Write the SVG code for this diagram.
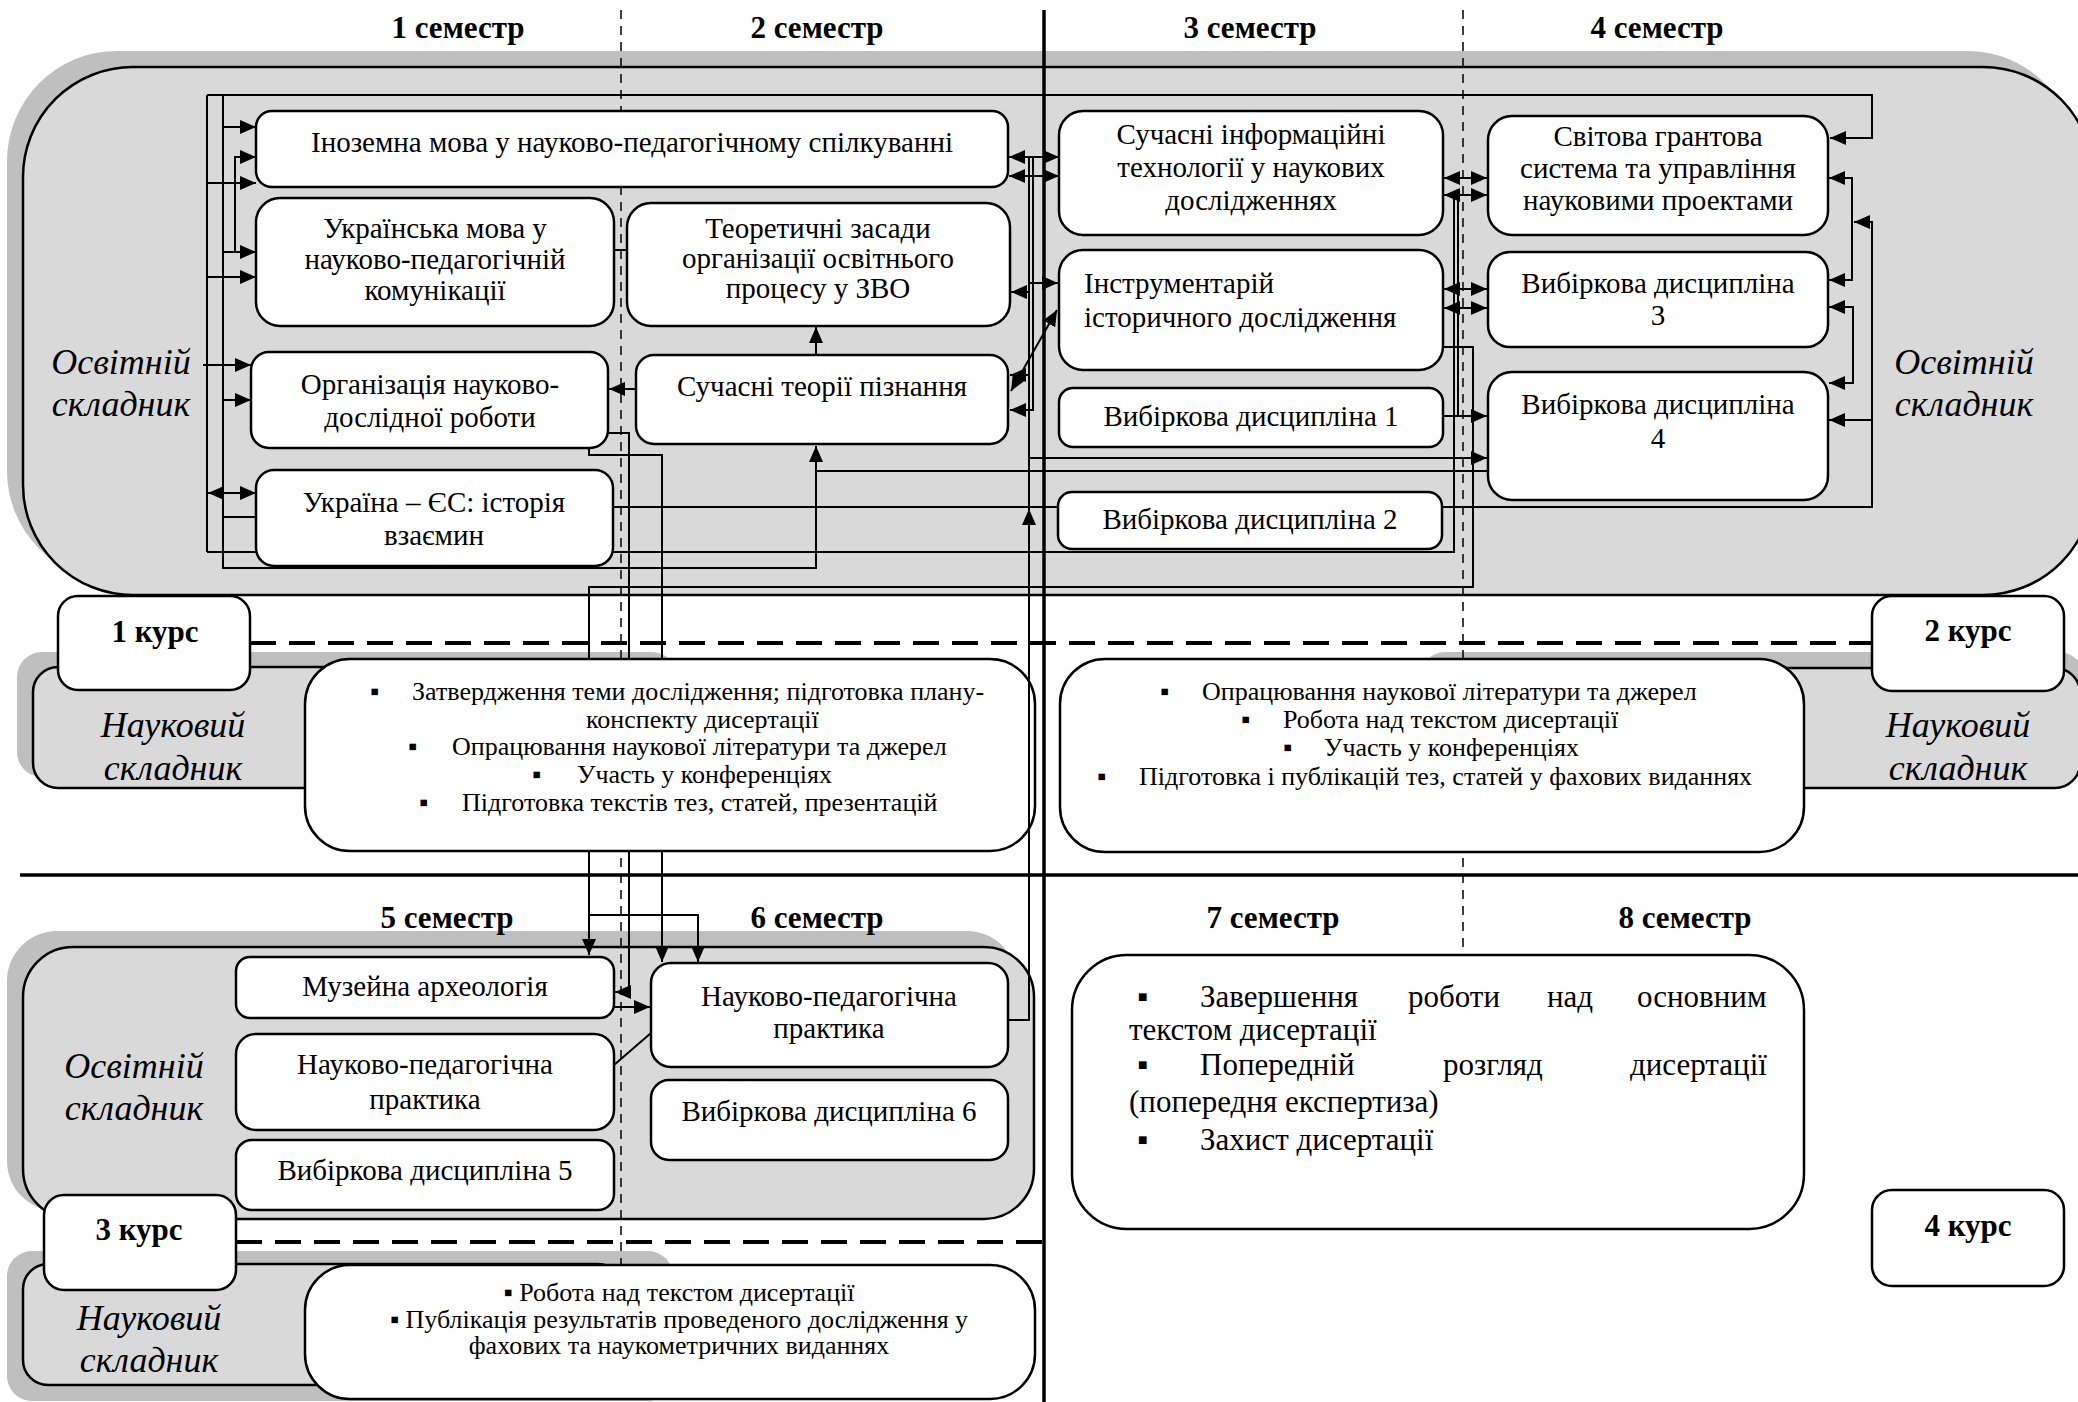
<svg xmlns="http://www.w3.org/2000/svg" width="2078" height="1402" viewBox="0 0 2078 1402">
<defs>
<style>
.bg{fill:#fff}
.sh{fill:#bfbfbf}
.zn{fill:#d9d9d9;stroke:#000;stroke-width:2.5}
.nd{fill:#fff;stroke:#000;stroke-width:2.5}
.t{font-family:"Liberation Serif","Times New Roman",serif;font-size:29px;fill:#000;text-anchor:middle}
.ts{font-family:"Liberation Serif","Times New Roman",serif;font-size:29px;fill:#000}
.b{font-family:"Liberation Serif","Times New Roman",serif;font-size:26px;fill:#000}
.bc{font-family:"Liberation Serif","Times New Roman",serif;font-size:26px;fill:#000;text-anchor:middle}
.y4{font-family:"Liberation Serif","Times New Roman",serif;font-size:31px;fill:#000}
.hd{font-family:"Liberation Serif","Times New Roman",serif;font-size:31px;font-weight:bold;fill:#000;text-anchor:middle}
.lb{font-family:"Liberation Serif","Times New Roman",serif;font-size:36px;font-style:italic;fill:#000;text-anchor:middle}
.c{fill:none;stroke:#000;stroke-width:2}
.dv{fill:none;stroke:#000;stroke-width:1.5;stroke-dasharray:9,7}
.dh{fill:none;stroke:#000;stroke-width:4;stroke-dasharray:26,13}
.sl{fill:none;stroke:#000;stroke-width:3.5}
</style>
<marker id="ah" viewBox="0 0 16 14" refX="16" refY="7" markerWidth="16" markerHeight="14" markerUnits="userSpaceOnUse" orient="auto-start-reverse"><path d="M0,0 L16,7 L0,14 z" fill="#000"/></marker>
</defs>
<rect class="bg" x="0" y="0" width="2078" height="1402"/>

<g id="zones">
<rect class="sh" x="7" y="51" width="2070" height="530" rx="110"/>
<rect class="zn" x="23" y="67" width="2070" height="528" rx="110"/>
<rect class="sh" x="17" y="652" width="660" height="125" rx="25"/>
<rect class="zn" x="33" y="667" width="600" height="121" rx="25"/>
<rect class="sh" x="1420" y="652" width="664" height="120" rx="25"/>
<rect class="zn" x="1440" y="668" width="640" height="120" rx="25"/>
<rect class="sh" x="7" y="931" width="1010" height="280" rx="50"/>
<rect class="zn" x="23" y="947" width="1011" height="272" rx="50"/>
<rect class="sh" x="7" y="1251" width="666" height="150" rx="25"/>
<rect class="zn" x="23" y="1264" width="600" height="121" rx="25"/>
</g>

<g id="grid-dashed">
<path class="dv" d="M621,10 V1265"/>
<path class="dv" d="M1463,10 V955"/>
</g>

<g id="connectors">
<path class="c" d="M207,95 V552"/>
<path class="c" d="M223,95 V568 H816 V446" marker-end="url(#ah)"/>
<path class="c" d="M207,95 H1872 V138 H1830" marker-end="url(#ah)"/>
<path class="c" d="M223,127 H256" marker-end="url(#ah)"/>
<path class="c" d="M235,252 V157 H256" marker-end="url(#ah)"/>
<path class="c" d="M207,183 H256" marker-end="url(#ah)"/>
<path class="c" d="M223,252 H256" marker-end="url(#ah)"/>
<path class="c" d="M207,277 H256" marker-end="url(#ah)"/>
<path class="c" d="M203,365 H251" marker-end="url(#ah)"/>
<path class="c" d="M223,400 H251" marker-end="url(#ah)"/>
<path class="c" d="M208,493 H256" marker-start="url(#ah)" marker-end="url(#ah)"/>
<path class="c" d="M223,517 H256"/>
<path class="c" d="M207,552 H256"/>
<path class="c" d="M636,389 H609" marker-end="url(#ah)"/>
<path class="c" d="M816,355 V327" marker-end="url(#ah)"/>
<path class="c" d="M613,250 H627"/>
<path class="c" d="M613,507 H1058"/>
<path class="c" d="M613,552 H1454 V195"/>
<path class="c" d="M1442,507 H1872 V222 H1854" marker-end="url(#ah)"/>
<path class="c" d="M1872,420 H1829" marker-end="url(#ah)"/>
<path class="c" d="M1829,178 H1852 V280 H1829" marker-start="url(#ah)" marker-end="url(#ah)"/>
<path class="c" d="M1829,307 H1853 V383 H1829" marker-start="url(#ah)" marker-end="url(#ah)"/>
<path class="c" d="M816,471 H1488"/>
<path class="c" d="M1009,157 H1059" marker-start="url(#ah)" marker-end="url(#ah)"/>
<path class="c" d="M1009,176 H1059" marker-start="url(#ah)" marker-end="url(#ah)"/>
<path class="c" d="M1033,157 V410 H1010" marker-end="url(#ah)"/>
<path class="c" d="M1029,375 H1010" marker-end="url(#ah)"/>
<path class="c" d="M1029,283 H1058" marker-end="url(#ah)"/>
<path class="c" d="M1029,292 H1011" marker-end="url(#ah)"/>
<path class="c" d="M1011,391 L1057,310" marker-start="url(#ah)" marker-end="url(#ah)"/>
<path class="c" d="M1029,458 H1487" marker-end="url(#ah)"/>
<path class="c" d="M1444,178 H1487" marker-start="url(#ah)" marker-end="url(#ah)"/>
<path class="c" d="M1444,195 H1487" marker-start="url(#ah)" marker-end="url(#ah)"/>
<path class="c" d="M1444,289 H1487" marker-start="url(#ah)" marker-end="url(#ah)"/>
<path class="c" d="M1444,308 H1487" marker-start="url(#ah)" marker-end="url(#ah)"/>
<path class="c" d="M1458,195 V416"/>
<path class="c" d="M1443,416 H1487" marker-end="url(#ah)"/>
<path class="c" d="M1443,347 H1473 V587 H589 V955" marker-end="url(#ah)"/>
<path class="c" d="M589,915 H698 V962" marker-end="url(#ah)"/>
<path class="c" d="M608,433 H629 V992 H615" marker-end="url(#ah)"/>
<path class="c" d="M589,447 V455 H662 V962" marker-end="url(#ah)"/>
<path class="c" d="M614,1007 H650" marker-end="url(#ah)"/>
<path class="c" d="M614,1065 L651,1033"/>
</g>

<g id="n-inozemna"><rect class="nd" x="256" y="111" width="752" height="76" rx="16"/><text class="t" x="632" y="152">Іноземна мова у науково-педагогічному спілкуванні</text></g>
<g id="n-ukrmova"><rect class="nd" x="256" y="198" width="358" height="128" rx="24"/><text class="t" y="238"><tspan x="435">Українська мова у</tspan><tspan x="435" dy="31">науково-педагогічній</tspan><tspan x="435" dy="31">комунікації</tspan></text></g>
<g id="n-teoretychni"><rect class="nd" x="627" y="203" width="383" height="123" rx="24"/><text class="t" y="238"><tspan x="818">Теоретичні засади</tspan><tspan x="818" dy="30">організації освітнього</tspan><tspan x="818" dy="30">процесу у ЗВО</tspan></text></g>
<g id="n-orhanizatsiia"><rect class="nd" x="251" y="352" width="357" height="96" rx="18"/><text class="t" y="394"><tspan x="430">Організація науково-</tspan><tspan x="430" dy="33">дослідної роботи</tspan></text></g>
<g id="n-teorii"><rect class="nd" x="636" y="355" width="372" height="89" rx="18"/><text class="t" x="822" y="396">Сучасні теорії пізнання</text></g>
<g id="n-ukraina-es"><rect class="nd" x="256" y="470" width="357" height="96" rx="18"/><text class="t" y="512"><tspan x="434">Україна – ЄС: історія</tspan><tspan x="434" dy="33">взаємин</tspan></text></g>
<g id="n-it"><rect class="nd" x="1059" y="111" width="384" height="124" rx="24"/><text class="t" y="144"><tspan x="1251">Сучасні інформаційні</tspan><tspan x="1251" dy="33">технології у наукових</tspan><tspan x="1251" dy="33">дослідженнях</tspan></text></g>
<g id="n-instrumentarii"><rect class="nd" x="1059" y="250" width="384" height="120" rx="24"/><text class="ts" y="293"><tspan x="1084">Інструментарій</tspan><tspan x="1084" dy="34">історичного дослідження</tspan></text></g>
<g id="n-vyb1"><rect class="nd" x="1059" y="388" width="384" height="59" rx="14"/><text class="t" x="1251" y="426">Вибіркова дисципліна 1</text></g>
<g id="n-vyb2"><rect class="nd" x="1058" y="492" width="384" height="57" rx="14"/><text class="t" x="1250" y="529">Вибіркова дисципліна 2</text></g>
<g id="n-svitova"><rect class="nd" x="1488" y="116" width="340" height="119" rx="24"/><text class="t" y="146"><tspan x="1658">Світова грантова</tspan><tspan x="1658" dy="32">система та управління</tspan><tspan x="1658" dy="32">науковими проектами</tspan></text></g>
<g id="n-vyb3"><rect class="nd" x="1488" y="252" width="340" height="95" rx="22"/><text class="t" y="293"><tspan x="1658">Вибіркова дисципліна</tspan><tspan x="1658" dy="32">3</tspan></text></g>
<g id="n-vyb4"><rect class="nd" x="1488" y="372" width="340" height="128" rx="24"/><text class="t" y="414"><tspan x="1658">Вибіркова дисципліна</tspan><tspan x="1658" dy="34">4</tspan></text></g>

<g id="n-nauk1-left"><rect class="nd" x="305" y="659" width="730" height="192" rx="45"/>
<text class="b" y="700"><tspan x="370">▪</tspan><tspan x="412">Затвердження теми дослідження; підготовка плану-</tspan><tspan x="586" dy="28">конспекту дисертації</tspan><tspan x="408" dy="27">▪</tspan><tspan x="452">Опрацювання наукової літератури та джерел</tspan><tspan x="532" dy="28">▪</tspan><tspan x="577">Участь у конференціях</tspan><tspan x="419" dy="28">▪</tspan><tspan x="462">Підготовка текстів тез, статей, презентацій</tspan></text>
</g>
<g id="n-nauk1-right"><rect class="nd" x="1060" y="659" width="744" height="193" rx="45"/>
<text class="b" y="700"><tspan x="1160">▪</tspan><tspan x="1202">Опрацювання наукової літератури та джерел</tspan><tspan x="1241" dy="28">▪</tspan><tspan x="1283">Робота над текстом дисертації</tspan><tspan x="1283" dy="28">▪</tspan><tspan x="1324">Участь у конференціях</tspan><tspan x="1097" dy="29">▪</tspan><tspan x="1139">Підготовка і публікацій тез, статей у фахових виданнях</tspan></text>
</g>

<g id="n-muzeina"><rect class="nd" x="236" y="957" width="378" height="61" rx="14"/><text class="t" x="425" y="996">Музейна археологія</text></g>
<g id="n-npp5"><rect class="nd" x="236" y="1034" width="378" height="96" rx="20"/><text class="t" y="1074"><tspan x="425">Науково-педагогічна</tspan><tspan x="425" dy="35">практика</tspan></text></g>
<g id="n-vyb5"><rect class="nd" x="236" y="1140" width="378" height="70" rx="16"/><text class="t" x="425" y="1180">Вибіркова дисципліна 5</text></g>
<g id="n-npp6"><rect class="nd" x="651" y="963" width="357" height="104" rx="20"/><text class="t" y="1006"><tspan x="829">Науково-педагогічна</tspan><tspan x="829" dy="32">практика</tspan></text></g>
<g id="n-vyb6"><rect class="nd" x="651" y="1080" width="357" height="80" rx="18"/><text class="t" x="829" y="1121">Вибіркова дисципліна 6</text></g>

<g id="n-nauk3"><rect class="nd" x="305" y="1265" width="730" height="134" rx="45"/>
<text class="bc" y="1301"><tspan x="679">▪ Робота над текстом дисертації</tspan><tspan x="679" dy="27">▪ Публікація результатів проведеного дослідження у</tspan><tspan x="679" dy="26">фахових та наукометричних виданнях</tspan></text>
</g>

<g id="n-year4"><rect class="nd" x="1072" y="955" width="732" height="274" rx="55"/>
<text class="y4" y="1007"><tspan x="1137">▪</tspan><tspan x="1200">Завершення</tspan><tspan x="1408">роботи</tspan><tspan x="1547">над</tspan><tspan x="1637">основним</tspan><tspan x="1129" dy="33">текстом дисертації</tspan><tspan x="1137" dy="35">▪</tspan><tspan x="1200">Попередній</tspan><tspan x="1443">розгляд</tspan><tspan x="1630">дисертації</tspan><tspan x="1129" dy="37">(попередня експертиза)</tspan><tspan x="1137" dy="38">▪</tspan><tspan x="1200">Захист дисертації</tspan></text>
</g>

<g id="connector-overlay">
<path class="c" d="M1008,1020 H1029 V157"/>
<path class="c" d="M1029,534 V509" marker-end="url(#ah)"/>
</g>

<g id="labels">
<text class="lb" y="374"><tspan x="121">Освітній</tspan><tspan x="121" dy="42">складник</tspan></text>
<text class="lb" y="374"><tspan x="1964">Освітній</tspan><tspan x="1964" dy="42">складник</tspan></text>
<text class="lb" y="737"><tspan x="173">Науковий</tspan><tspan x="173" dy="43">складник</tspan></text>
<text class="lb" y="737"><tspan x="1958">Науковий</tspan><tspan x="1958" dy="43">складник</tspan></text>
<text class="lb" y="1078"><tspan x="134">Освітній</tspan><tspan x="134" dy="42">складник</tspan></text>
<text class="lb" y="1330"><tspan x="149">Науковий</tspan><tspan x="149" dy="42">складник</tspan></text>
</g>

<g id="dividers">
<path class="sl" d="M1044,10 V1402"/>
<path class="sl" d="M20,875 H2078"/>
<path class="dh" d="M250,643 H1871"/>
<path class="dh" d="M236,1242 H1044"/>
</g>

<g id="courses">
<g id="k1"><rect class="nd" x="58" y="596" width="192" height="94" rx="20"/><text class="hd" x="155" y="642">1 курс</text></g>
<g id="k2"><rect class="nd" x="1872" y="596" width="192" height="95" rx="20"/><text class="hd" x="1968" y="641">2 курс</text></g>
<g id="k3"><rect class="nd" x="44" y="1195" width="192" height="95" rx="20"/><text class="hd" x="139" y="1240">3 курс</text></g>
<g id="k4"><rect class="nd" x="1872" y="1190" width="192" height="96" rx="20"/><text class="hd" x="1968" y="1236">4 курс</text></g>
</g>

<g id="headers">
<text class="hd" x="458" y="38">1 семестр</text>
<text class="hd" x="817" y="38">2 семестр</text>
<text class="hd" x="1250" y="38">3 семестр</text>
<text class="hd" x="1657" y="38">4 семестр</text>
<text class="hd" x="447" y="928">5 семестр</text>
<text class="hd" x="817" y="928">6 семестр</text>
<text class="hd" x="1273" y="928">7 семестр</text>
<text class="hd" x="1685" y="928">8 семестр</text>
</g>
</svg>
